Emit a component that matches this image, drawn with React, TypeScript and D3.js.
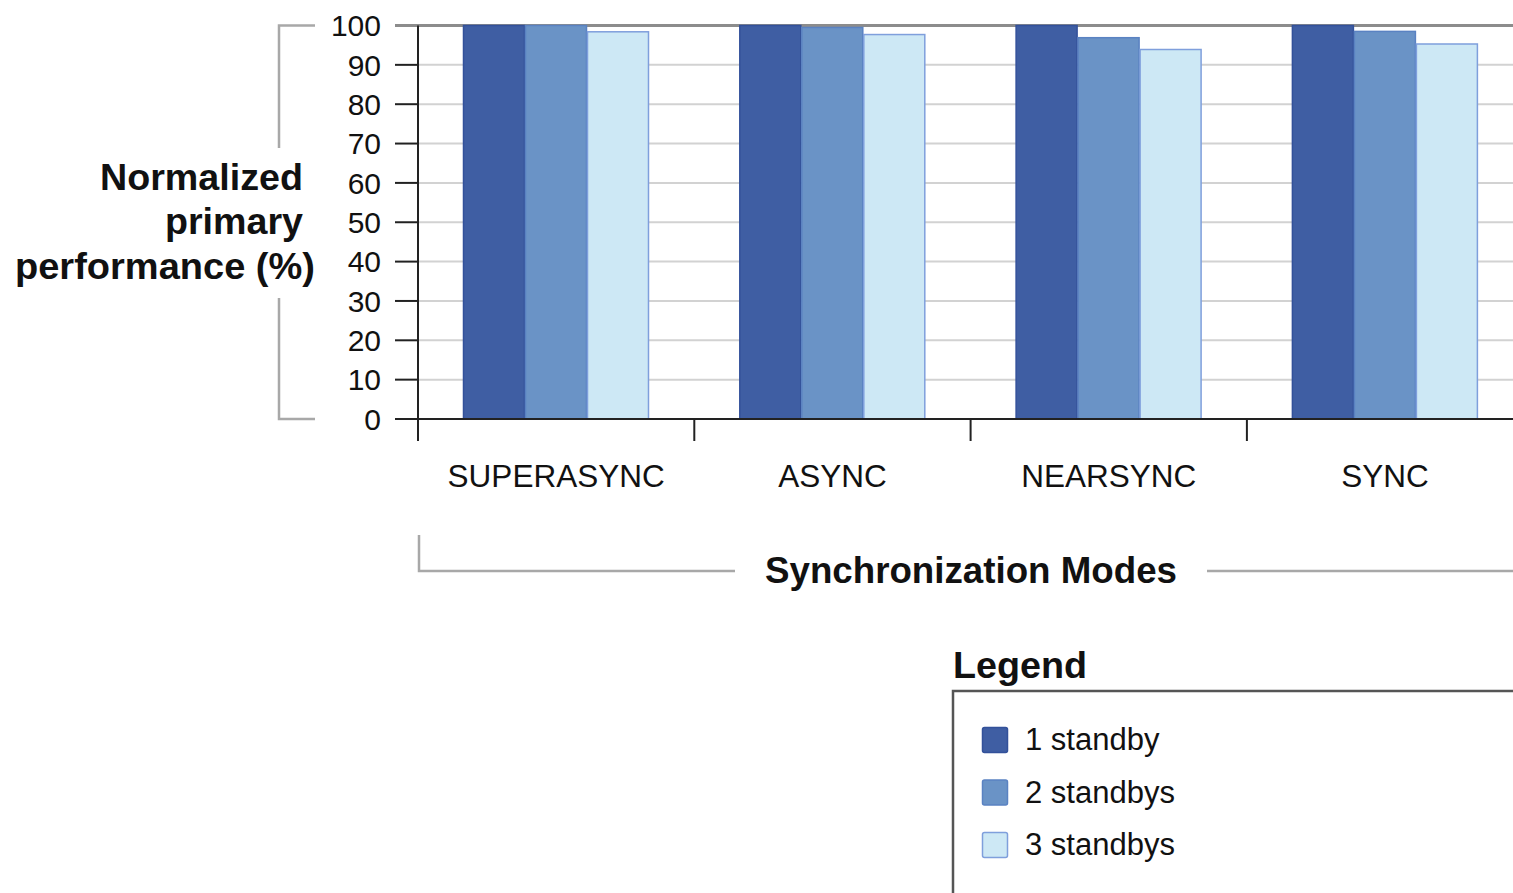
import React from "react";
import * as d3 from "d3";

const categories = ["SUPERASYNC", "ASYNC", "NEARSYNC", "SYNC"];
const seriesNames = ["1 standby", "2 standbys", "3 standbys"];
const oneStandby = [100, 100, 100, 100];
const twoStandbys = [100, 99.5, 96.9, 98.5];
const threeStandbys = [98.4, 97.7, 93.9, 95.3];
const yTicks = [0, 10, 20, 30, 40, 50, 60, 70, 80, 90, 100];
const yTitleLines = ["Normalized", "primary", "performance (%)"];
const xTitle = "Synchronization Modes";
const legendTitle = "Legend";

const fills = ["#3f5ea3", "#6a93c6", "#cde8f5"];
const strokes = ["#33519a", "#5a82c2", "#7f9fdc"];

export default function App() {
  const W = 1513, H = 893;
  const x0 = 418, bandW = 276.3;
  const x = d3.scaleBand<string>().domain(categories).range([x0, x0 + bandW * 4]).paddingInner(0).paddingOuter(0);
  const xs = d3.scaleBand<string>().domain(seriesNames).range([45, 231]).padding(0);
  const y = d3.scaleLinear().domain([0, 100]).range([419, 25.5]);
  const series = [oneStandby, twoStandbys, threeStandbys];
  const font = "'Liberation Sans', Arial, Helvetica, sans-serif";
  const yTitleRight = [303, 303, 315];
  const yTitleBase = [190, 234, 279];
  const yTitleWidths = [203, 138, 300];

  return (
    <svg width={W} height={H} style={{ position: "fixed", left: 0, top: 0, background: "#fff" }} fontFamily={font}>
      {/* gridlines */}
      {yTicks.filter(t => t > 0 && t < 100).map(t => (
        <line key={"g" + t} x1={x0} x2={W} y1={y(t)} y2={y(t)} stroke="#d2d2d2" strokeWidth={2} />
      ))}
      {/* top line */}
      <line x1={395} x2={W} y1={y(100)} y2={y(100)} stroke="#8c8c8c" strokeWidth={3} />
      {/* bars */}
      {categories.map((c, ci) => (
        <g key={c}>
          {seriesNames.map((s, si) => {
            const v = series[si][ci];
            const bx = (x(c) as number) + (xs(s) as number);
            return (
              <rect key={s} x={bx + 0.5} y={y(v)} width={xs.bandwidth() - 1} height={y(0) - y(v)}
                fill={fills[si]} stroke={strokes[si]} strokeWidth={1.5} />
            );
          })}
        </g>
      ))}
      {/* y ticks */}
      {yTicks.filter(t => t < 100).map(t => (
        <line key={"t" + t} x1={395} x2={x0} y1={y(t)} y2={y(t)} stroke="#222" strokeWidth={2} />
      ))}
      {yTicks.map(t => (
        <text key={"l" + t} x={381} y={y(t)} dy="0.36em" textAnchor="end" fontSize={30} fill="#111">{t}</text>
      ))}
      {/* axes */}
      <line x1={x0} x2={x0} y1={y(100)} y2={441} stroke="#222" strokeWidth={2} />
      <line x1={395} x2={W} y1={y(0)} y2={y(0)} stroke="#222" strokeWidth={2} />
      {categories.slice(1).map(c => (
        <line key={"ct" + c} x1={x(c)} x2={x(c)} y1={y(0)} y2={441} stroke="#222" strokeWidth={2} />
      ))}
      {categories.map(c => (
        <text key={"cl" + c} x={(x(c) as number) + x.bandwidth() / 2} y={487} textAnchor="middle" fontSize={31.5} fill="#111">{c}</text>
      ))}
      {/* y bracket */}
      <path d={`M315,${y(100)} H279 V148 M279,298 V${y(0)} H315`} fill="none" stroke="#a8a8a8" strokeWidth={2.5} />
      {yTitleLines.map((l, i) => (
        <text key={l} x={yTitleRight[i]} y={yTitleBase[i]} textAnchor="end" fontSize={36} fontWeight="bold" fill="#111"
          textLength={yTitleWidths[i]} lengthAdjust="spacingAndGlyphs">{l}</text>
      ))}
      {/* x bracket */}
      <path d={`M419,535 V571 H735 M1207,571 H${W}`} fill="none" stroke="#a8a8a8" strokeWidth={2.5} />
      <text x={765} y={583} fontSize={37} fontWeight="bold" fill="#111" textLength={412} lengthAdjust="spacingAndGlyphs">{xTitle}</text>
      {/* legend */}
      <text x={953} y={678} fontSize={36} fontWeight="bold" fill="#111" textLength={134} lengthAdjust="spacingAndGlyphs">{legendTitle}</text>
      <rect x={953} y={691} width={W} height={H} fill="none" stroke="#555" strokeWidth={2.5} />
      {seriesNames.map((s, i) => (
        <g key={"lg" + s} transform={`translate(982, ${727 + i * 52.5})`}>
          <rect x={0.5} y={0.5} width={25} height={25} rx={2} fill={fills[i]} stroke={strokes[i]} strokeWidth={1.5} />
          <text x={43} y={23} fontSize={31} fill="#111">{s}</text>
        </g>
      ))}
    </svg>
  );
}
